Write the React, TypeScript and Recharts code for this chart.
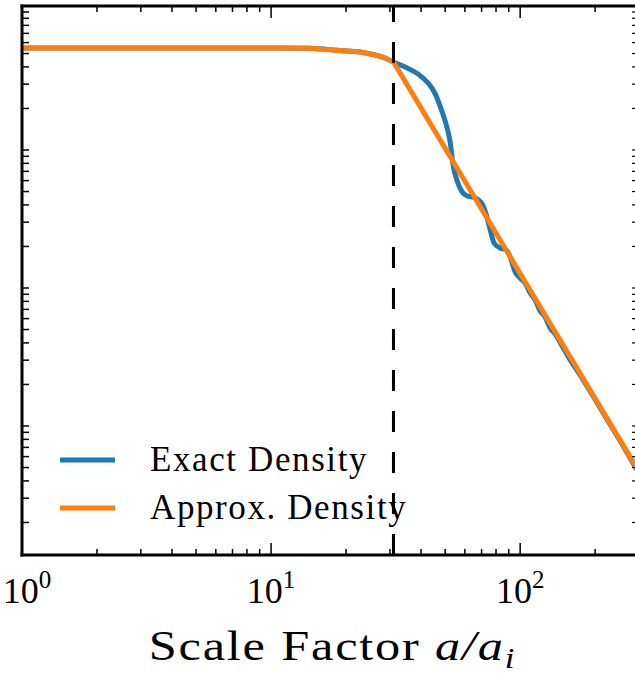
import React from "react";
import { LineChart, Line, XAxis, YAxis, ReferenceLine, Legend, Label } from "recharts";

// scale factor a/a_i and density (log-log)
const exactScale = [
  1, 5.19, 10.9, 14.3, 18.9, 22.8, 26.2, 28.7, 31, 34.5, 38.9, 42.7, 45.6, 47.7, 50.0,
  52.35, 53.8, 55.85, 58.5, 61.3, 64.2, 67.2, 70.4, 73.0, 75.8, 78.6, 83.1, 87.9, 91.2,
  95.5, 100, 104.7, 109.7, 114.9, 120.3, 126.0, 131.9, 138.2, 147.5, 158.8, 174.2, 209.6,
  252.2, 300,
];
const exactDensity = [
  5.49, 5.49, 5.49, 5.46, 5.26, 5.13, 4.88, 4.64, 4.34, 3.99, 3.55, 3.06, 2.55, 2.08, 1.62,
  1.143, 0.778, 0.596, 0.496, 0.464, 0.4565, 0.4416, 0.4062, 0.3437, 0.2632, 0.2119, 0.195,
  0.1886, 0.1677, 0.1306, 0.1182, 0.1087, 0.092, 0.0818, 0.0681, 0.0617, 0.0513, 0.0464,
  0.038, 0.0301, 0.0234, 0.0135, 0.00778, 0.00456,
];

const approxScale = [1, 5.19, 10.9, 14.3, 18.9, 22.8, 26.2, 28.7, 31, 100, 300];
const approxDensity = [5.49, 5.49, 5.49, 5.46, 5.26, 5.13, 4.88, 4.64, 4.34, 0.1274, 0.00468];

const transitionScale = 31;
const seriesNames = ["Exact Density", "Approx. Density"];

const xTicks = [1, 2, 3, 4, 5, 6, 7, 8, 9, 10, 20, 30, 40, 50, 60, 70, 80, 90, 100, 200, 300];
const xMajorTicks = [1, 10, 100];
const yTicks = [
  0.002, 0.003, 0.004, 0.005, 0.006, 0.007, 0.008, 0.009,
  0.01, 0.02, 0.03, 0.04, 0.05, 0.06, 0.07, 0.08, 0.09,
  0.1, 0.2, 0.3, 0.4, 0.5, 0.6, 0.7, 0.8, 0.9,
  1, 2, 3, 4, 5, 6, 7, 8, 9, 10,
];

const exactData = exactScale.map((a, i) => ({ a, rho: exactDensity[i] }));
const approxData = approxScale.map((a, i) => ({ a, rho: approxDensity[i] }));

const FONT = "'Liberation Serif', 'Times New Roman', serif";
const spine = { stroke: "#000", strokeWidth: 3, strokeLinecap: "square" as const };

function BottomTick(props: any) {
  const { x, y, payload } = props;
  const major = xMajorTicks.includes(payload.value);
  // keep the leftmost label inside the page
  const labelX = Math.max(x, 27);
  return (
    <g>
      <line x1={x} x2={x} y1={y} y2={y - (major ? 12 : 6)} stroke="#000" strokeWidth={1.5} />
      {major && (
        <text x={labelX} y={y + 48} textAnchor="middle" fontFamily={FONT} fontSize={36} fill="#000">
          10
          <tspan dy={-15} fontSize={25}>
            {Math.round(Math.log10(payload.value))}
          </tspan>
        </text>
      )}
    </g>
  );
}

function TopTick(props: any) {
  const { x, y, payload } = props;
  const major = xMajorTicks.includes(payload.value);
  return <line x1={x} x2={x} y1={y} y2={y + (major ? 12 : 6)} stroke="#000" strokeWidth={1.5} />;
}

function LeftTick(props: any) {
  const { x, y } = props;
  return <line x1={x} x2={x + 7} y1={y} y2={y} stroke="#000" strokeWidth={1.5} />;
}

function RightTick(props: any) {
  const { x, y } = props;
  return <line x1={x} x2={x - 7} y1={y} y2={y} stroke="#000" strokeWidth={1.2} />;
}

function XTitle(props: any) {
  const vb = props.viewBox;
  const cx = vb.x + vb.width / 2 + 2;
  return (
    <g transform={`translate(${cx},${vb.y + 105}) scale(1.2,1)`}>
      <text x={0} y={0} textAnchor="middle" fontFamily={FONT} fontSize={42} letterSpacing={1.5} fill="#000">
        Scale Factor{" "}
        <tspan fontStyle="italic">a/a</tspan>
        <tspan fontStyle="italic" fontSize={29} dy={8}>
          i
        </tspan>
      </text>
    </g>
  );
}

function renderLegend(props: any) {
  const items = [...(props.payload || [])].sort(
    (p: any, q: any) => seriesNames.indexOf(p.value) - seriesNames.indexOf(q.value)
  );
  return (
    <div>
      {items.map((entry: any) => (
        <div key={entry.value} style={{ display: "flex", alignItems: "center", height: 48 }}>
          <svg width={55} height={6} style={{ display: "block" }}>
            <line x1={0} x2={55} y1={3} y2={3} stroke={entry.color} strokeWidth={5} />
          </svg>
          <span
            style={{
              marginLeft: 35,
              fontFamily: FONT,
              fontSize: 35,
              letterSpacing: 1.6,
              lineHeight: "48px",
              color: "#000",
              whiteSpace: "nowrap",
            }}
          >
            {entry.value}
          </span>
        </div>
      ))}
    </div>
  );
}

export default function App() {
  return (
    <div
      style={{
        position: "absolute",
        left: 0,
        top: 0,
        width: 635,
        height: 674,
        overflow: "hidden",
        background: "#fff",
      }}
    >
      <LineChart width={660} height={674} margin={{ top: 5, right: 20, left: 21, bottom: 118 }}>
        <XAxis
          dataKey="a"
          type="number"
          scale="log"
          domain={[1, 300]}
          allowDataOverflow
          ticks={xTicks}
          interval={0}
          height={1}
          tickSize={0}
          tickMargin={0}
          tickLine={false}
          axisLine={spine}
          tick={BottomTick}
        >
          <Label content={XTitle} />
        </XAxis>
        <XAxis
          xAxisId="top"
          orientation="top"
          dataKey="a"
          type="number"
          scale="log"
          domain={[1, 300]}
          allowDataOverflow
          ticks={xTicks}
          interval={0}
          height={1}
          tickSize={0}
          tickMargin={0}
          tickLine={false}
          axisLine={spine}
          tick={TopTick}
        />
        <YAxis
          type="number"
          scale="log"
          domain={[0.001162, 11.05]}
          allowDataOverflow
          ticks={yTicks}
          interval={0}
          width={1}
          tickSize={0}
          tickMargin={0}
          tickLine={false}
          axisLine={spine}
          tick={LeftTick}
        />
        <YAxis
          yAxisId="right"
          orientation="right"
          type="number"
          scale="log"
          domain={[0.001162, 11.05]}
          allowDataOverflow
          ticks={yTicks}
          interval={0}
          width={1}
          tickSize={0}
          tickMargin={0}
          tickLine={false}
          axisLine={spine}
          tick={RightTick}
        />
        <Legend
          layout="vertical"
          align="center"
          verticalAlign="middle"
          content={renderLegend}
          wrapperStyle={{ left: 60, top: 436, width: 420 }}
        />
        <Line
          data={exactData}
          dataKey="rho"
          name="Exact Density"
          type="monotone"
          stroke="#1f77b4"
          strokeWidth={5}
          dot={false}
          legendType="line"
          isAnimationActive={false}
        />
        <Line
          data={approxData}
          dataKey="rho"
          name="Approx. Density"
          type="linear"
          stroke="#ff7f0e"
          strokeWidth={5}
          dot={false}
          legendType="line"
          isAnimationActive={false}
        />
        <ReferenceLine
          x={transitionScale}
          stroke="#000"
          strokeWidth={3}
          strokeDasharray="21 20"
          ifOverflow="visible"
        />
      </LineChart>
    </div>
  );
}
